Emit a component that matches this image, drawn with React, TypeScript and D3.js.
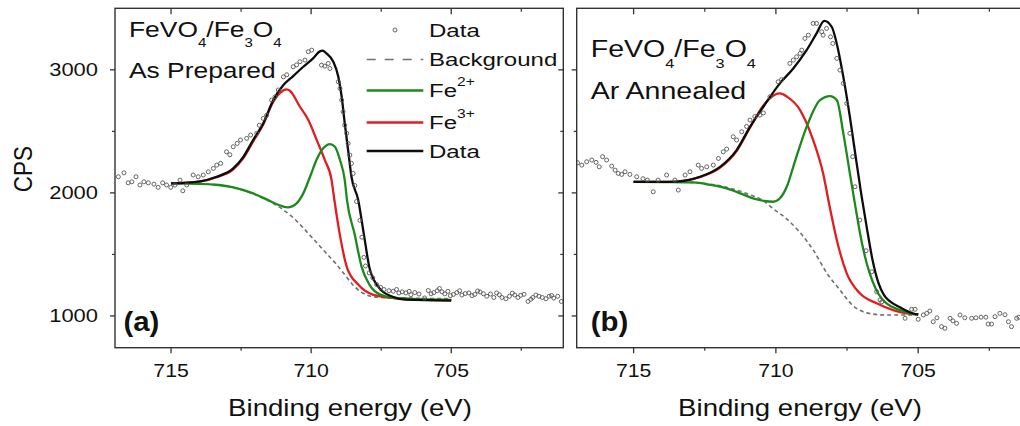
import React from 'react';
import * as d3 from 'd3';

type Pt = [number, number]; // [binding energy (eV), counts per second]

// ---------- Panel (a): FeVO4/Fe3O4 as prepared ----------
const dataA: Pt[] = [
  [716.88, 2131], [716.68, 2163], [716.53, 2082], [716.4, 2090], [716.25, 2131], [716.11, 2064],
  [715.97, 2090], [715.81, 2082], [715.61, 2071], [715.46, 2045], [715.3, 2082], [715.16, 2064],
  [715.01, 2045], [714.86, 2064], [714.68, 2104], [714.58, 2017], [714.44, 2064], [714.21, 2145],
  [714.03, 2131], [713.85, 2145], [713.67, 2171], [713.49, 2199], [713.37, 2226], [713.23, 2240],
  [713.02, 2334], [712.9, 2310], [712.78, 2375], [712.64, 2402], [712.52, 2430], [712.3, 2443],
  [712.16, 2470], [711.94, 2484], [711.85, 2550], [711.71, 2605], [711.59, 2630], [711.41, 2754],
  [711.29, 2780], [711.17, 2836], [710.99, 2943], [710.87, 2960], [710.64, 3025], [710.52, 3040],
  [710.4, 3066], [710.22, 3079], [710.1, 3147], [709.98, 3160], [709.63, 3038], [709.51, 3030],
  [709.39, 3052], [709.33, 3011], [709.03, 2903], [708.97, 2849], [708.91, 2754], [708.86, 2659],
  [708.8, 2550], [708.73, 2484], [708.68, 2402], [708.62, 2307], [708.56, 2240], [708.5, 2158],
  [708.44, 2060], [708.38, 1930], [708.26, 1777], [708.19, 1640], [708.12, 1476], [708.06, 1406],
  [707.93, 1350], [707.8, 1310], [707.66, 1255], [707.52, 1232], [707.4, 1215], [707.22, 1205],
  [707.07, 1201], [706.95, 1215], [706.87, 1187], [706.75, 1196], [706.62, 1187], [706.5, 1200],
  [706.44, 1173], [706.3, 1190], [706.15, 1178], [705.95, 1146], [705.82, 1207], [705.72, 1180],
  [705.62, 1190], [705.5, 1205], [705.42, 1223], [705.33, 1196], [705.23, 1180], [705.12, 1200],
  [705.03, 1165], [704.92, 1175], [704.8, 1190], [704.7, 1205], [704.62, 1170], [704.5, 1182],
  [704.37, 1187], [704.26, 1165], [704.16, 1175], [704.06, 1203], [703.97, 1195], [703.85, 1180],
  [703.73, 1160], [703.6, 1178], [703.48, 1150], [703.38, 1187], [703.28, 1172], [703.19, 1150],
  [703.05, 1140], [702.92, 1160], [702.82, 1185], [702.73, 1170], [702.62, 1150], [702.52, 1168],
  [702.4, 1176], [702.26, 1118], [702.16, 1135], [702.09, 1150], [701.98, 1170], [701.87, 1160],
  [701.75, 1150], [701.62, 1140], [701.5, 1160], [701.42, 1166], [701.34, 1146], [701.2, 1160],
  [701.07, 1118],
];
const bgA: Pt[] = [
  [715.0, 2077], [714.0, 2075], [713.4, 2066], [712.8, 2045], [712.1, 1995], [711.6, 1945],
  [711.1, 1880], [710.7, 1810], [710.3, 1720], [709.9, 1620], [709.5, 1520], [709.1, 1420],
  [708.8, 1335], [708.5, 1250], [708.2, 1192], [707.9, 1162], [707.5, 1150], [706.6, 1145],
  [705.0, 1140],
];
const fe2A: Pt[] = [
  [715.0, 2077], [714.0, 2074], [713.4, 2066], [712.78, 2045], [712.07, 1996], [711.59, 1947],
  [711.2, 1906], [710.84, 1882], [710.52, 1915], [710.28, 1996], [710.04, 2131], [709.81, 2267],
  [709.57, 2362], [709.33, 2397], [709.15, 2375], [708.97, 2267], [708.8, 2104], [708.72, 1942],
  [708.45, 1667], [708.19, 1393], [707.92, 1255], [707.53, 1173], [707.01, 1146], [705.0, 1130],
];
const fe3A: Pt[] = [
  [715.0, 2077], [713.97, 2092], [713.37, 2128], [712.78, 2192], [712.42, 2283], [712.07, 2418],
  [711.71, 2555], [711.4, 2720], [711.1, 2815], [710.88, 2841], [710.76, 2830], [710.4, 2700],
  [710.1, 2592], [709.8, 2429], [709.51, 2267], [709.27, 2104], [709.17, 1942], [708.98, 1667],
  [708.72, 1393], [708.32, 1255], [707.8, 1173], [707.12, 1146], [706.6, 1135], [705.0, 1128],
];
const sumA: Pt[] = [
  [715.0, 2077], [713.97, 2094], [713.37, 2131], [712.78, 2199], [712.42, 2293], [712.07, 2430],
  [711.71, 2565], [711.35, 2754], [710.99, 2876], [710.64, 2949], [710.28, 3025], [709.93, 3093],
  [709.69, 3150], [709.6, 3156], [709.45, 3133], [709.21, 3066], [709.03, 2943], [708.91, 2781],
  [708.8, 2565], [708.68, 2348], [708.56, 2131], [708.32, 1942], [708.12, 1667], [707.92, 1393],
  [707.66, 1255], [707.14, 1160], [706.6, 1132], [705.0, 1124],
];

// ---------- Panel (b): FeVO4/Fe3O4 Ar annealed ----------
const dataB: Pt[] = [
  [716.97, 2245], [716.82, 2226], [716.65, 2253], [716.47, 2267], [716.32, 2248], [716.21, 2212],
  [716.09, 2294], [715.95, 2267], [715.77, 2218], [715.65, 2185], [715.54, 2158], [715.42, 2150],
  [715.3, 2172], [715.13, 2150], [714.89, 2131], [714.67, 2115], [714.52, 2104], [714.31, 2009],
  [714.14, 2104], [713.84, 2145], [713.55, 2104], [713.43, 2023], [713.19, 2145], [713.02, 2172],
  [712.73, 2226], [712.61, 2199], [712.43, 2212], [712.2, 2226], [712.02, 2280], [711.85, 2334],
  [711.73, 2356], [711.5, 2456], [711.38, 2430], [711.2, 2497], [711.03, 2540], [710.91, 2592],
  [710.74, 2620], [710.56, 2632], [710.44, 2650], [710.21, 2781], [709.92, 2903], [709.8, 2920],
  [709.51, 3052], [709.39, 3079], [709.27, 3106], [709.15, 3133], [709.09, 3160], [708.98, 3255],
  [708.86, 3282], [708.69, 3377], [708.57, 3377], [708.39, 3309], [708.34, 3282], [708.22, 3336],
  [708.08, 3268], [708.0, 3214], [707.86, 3093], [707.75, 2998], [707.63, 2890], [707.51, 2727],
  [707.4, 2484], [707.3, 2294], [707.22, 2050], [707.05, 1779], [706.83, 1530], [706.63, 1359],
  [706.46, 1197], [706.34, 1130], [706.28, 1115], [705.46, 981], [705.23, 1054], [705.11, 1054],
  [705.0, 973], [704.82, 1008], [704.7, 1021], [704.59, 1040], [704.47, 953], [704.34, 985],
  [704.18, 913], [704.06, 900], [703.88, 981], [703.78, 960], [703.65, 940], [703.53, 1008],
  [703.36, 985], [703.12, 981], [702.97, 985], [702.79, 990], [702.62, 990], [702.54, 934],
  [702.42, 934], [702.3, 994], [702.13, 1021], [701.95, 1010], [701.83, 953], [701.72, 913],
  [701.54, 981], [701.46, 990],
];
const bgB: Pt[] = [
  [715.0, 2090], [714.0, 2090], [713.0, 2085], [712.3, 2070], [711.73, 2045], [711.0, 1992],
  [710.5, 1945], [710.1, 1872], [709.6, 1785], [709.2, 1690], [708.7, 1540], [708.2, 1345],
  [707.75, 1211], [707.3, 1085], [706.8, 1025], [706.2, 1008], [705.0, 1008],
];
const fe2B: Pt[] = [
  [715.0, 2090], [714.0, 2088], [712.9, 2085], [712.3, 2065], [711.73, 2037], [711.2, 1992],
  [710.8, 1956], [710.4, 1934], [710.09, 1928], [709.86, 1956], [709.6, 2060], [709.39, 2212],
  [708.92, 2537], [708.45, 2754], [708.1, 2787], [707.86, 2754], [707.63, 2484], [707.4, 2158],
  [707.2, 1880], [707.0, 1620], [706.8, 1420], [706.6, 1280], [706.4, 1180], [706.1, 1100],
  [705.64, 1048], [705.3, 1021], [705.0, 1012],
];
const fe3B: Pt[] = [
  [715.0, 2090], [714.0, 2090], [713.5, 2092], [712.67, 2128], [711.96, 2205], [711.38, 2340],
  [710.91, 2530], [710.44, 2710], [710.1, 2790], [709.86, 2808], [709.6, 2780], [709.15, 2673],
  [708.69, 2429], [708.34, 2158], [708.12, 1900], [707.86, 1617], [707.51, 1346], [707.05, 1184],
  [706.46, 1103], [705.88, 1048], [705.41, 1021], [705.0, 1012],
];
const sumB: Pt[] = [
  [715.0, 2090], [714.0, 2090], [713.49, 2092], [712.67, 2131], [711.96, 2212], [711.38, 2348],
  [710.91, 2537], [710.44, 2700], [709.86, 2890], [709.39, 3011], [708.92, 3160], [708.57, 3296],
  [708.3, 3398], [708.04, 3350], [707.81, 3160], [707.63, 2943], [707.4, 2618], [707.2, 2300],
  [707.0, 1990], [706.8, 1710], [706.6, 1450], [706.4, 1270], [706.2, 1170], [706.0, 1120],
  [705.64, 1070], [705.17, 1020], [705.0, 1012],
];

// ---------- Axes ----------
const xMajorTicks = [715, 710, 705];
const xMinorTicks = [712.5, 707.5, 702.5];
const yMajorTicks = [1000, 2000, 3000];
const yMinorTicks = [1500, 2500];
const xDomain: [number, number] = [717, 701];
const yDomain: [number, number] = [742, 3500];

const legendLabels = ['Data', 'Background', 'Fe', 'Fe', 'Data'];
const legendSup = ['', '', '2+', '3+', ''];

const SANS = "'Liberation Sans', Arial, Helvetica, sans-serif";
const RED = '#e11d22';
const GREEN = '#1b8a1b';
const BLACK = '#0d0d0d';
const DASH = '#707070';
const AXIS = '#333';
const MARK = '#555';

type TxtProps = {
  x: number; y: number; size: number; sx?: number; anchor?: 'start' | 'middle' | 'end';
  weight?: string; rotate?: number; children: React.ReactNode;
};
function Txt({ x, y, size, sx = 1.2, anchor = 'start', weight = 'normal', rotate = 0, children }: TxtProps) {
  const rot = rotate ? ` rotate(${rotate})` : '';
  return (
    <text
      transform={`translate(${x},${y}) scale(${sx},1)${rot}`}
      fontSize={size}
      fontFamily={SANS}
      fontWeight={weight}
      textAnchor={anchor}
      fill="#111"
    >
      {children}
    </text>
  );
}

type PanelProps = {
  id: string;
  left: number; right: number; top: number; bottom: number;
  data: Pt[]; bg: Pt[]; fe2: Pt[]; fe3: Pt[]; sum: Pt[];
  yLabels: boolean;
  title: { x: number; y1: number; y2: number; size: number; sub: number; line2: string };
  tag: string; tagX: number;
  axisTitleX: number;
  legend?: boolean;
};

function Panel(p: PanelProps) {
  const x = d3.scaleLinear().domain(xDomain).range([p.left, p.right]);
  const y = d3.scaleLinear().domain(yDomain).range([p.bottom, p.top]);
  const line = d3.line<Pt>().x((d) => x(d[0])).y((d) => y(d[1])).curve(d3.curveMonotoneX);
  const clip = `clip-${p.id}`;
  const subShift = p.title.sub * 0.84;

  return (
    <g>
      <defs>
        <clipPath id={clip}>
          <rect x={p.left} y={p.top} width={p.right - p.left} height={p.bottom - p.top} />
        </clipPath>
      </defs>

      <g clipPath={`url(#${clip})`}>
        <path d={line(p.bg) ?? ''} fill="none" stroke={DASH} strokeWidth={1.6} strokeDasharray="4 3" />
        <path d={line(p.fe3) ?? ''} fill="none" stroke={RED} strokeWidth={2.3} />
        <path d={line(p.fe2) ?? ''} fill="none" stroke={GREEN} strokeWidth={2.3} />
        <path d={line(p.sum) ?? ''} fill="none" stroke={BLACK} strokeWidth={2.3} />
        {p.data.map((d, i) => (
          <circle key={i} cx={x(d[0])} cy={y(d[1])} r={2} fill="none" stroke={MARK} strokeWidth={0.9} />
        ))}
      </g>

      {/* frame */}
      <rect x={p.left} y={p.top} width={p.right - p.left} height={p.bottom - p.top}
        fill="none" stroke={AXIS} strokeWidth={1.4} />

      {/* x ticks: outward on bottom, inward on top */}
      {xMajorTicks.map((t) => (
        <g key={`xM${t}`}>
          <line x1={x(t)} x2={x(t)} y1={p.bottom} y2={p.bottom + 5.5} stroke={AXIS} strokeWidth={1.3} />
          <line x1={x(t)} x2={x(t)} y1={p.top} y2={p.top + 6} stroke={AXIS} strokeWidth={1.3} />
          <Txt x={x(t)} y={377.3} size={19} sx={1.12} anchor="middle">{t}</Txt>
        </g>
      ))}
      {xMinorTicks.map((t) => (
        <g key={`xm${t}`}>
          <line x1={x(t)} x2={x(t)} y1={p.bottom} y2={p.bottom + 3} stroke={AXIS} strokeWidth={1.2} />
          <line x1={x(t)} x2={x(t)} y1={p.top} y2={p.top + 3.5} stroke={AXIS} strokeWidth={1.2} />
        </g>
      ))}

      {/* y ticks: outward on left, inward on right */}
      {yMajorTicks.map((t) => (
        <g key={`yM${t}`}>
          <line x1={p.left - 5} x2={p.left} y1={y(t)} y2={y(t)} stroke={AXIS} strokeWidth={1.3} />
          <line x1={p.right - 5} x2={p.right} y1={y(t)} y2={y(t)} stroke={AXIS} strokeWidth={1.3} />
          {p.yLabels && (
            <Txt x={98} y={y(t) + 6.4} size={18} sx={1.22} anchor="end">{t}</Txt>
          )}
        </g>
      ))}
      {yMinorTicks.map((t) => (
        <g key={`ym${t}`}>
          <line x1={p.left - 3} x2={p.left} y1={y(t)} y2={y(t)} stroke={AXIS} strokeWidth={1.2} />
          <line x1={p.right - 3} x2={p.right} y1={y(t)} y2={y(t)} stroke={AXIS} strokeWidth={1.2} />
        </g>
      ))}

      {/* sample label */}
      <Txt x={p.title.x} y={p.title.y1} size={p.title.size}>
        <tspan>FeVO</tspan>
        <tspan fontSize={p.title.sub} dy={subShift}>4</tspan>
        <tspan dy={-subShift}>/Fe</tspan>
        <tspan fontSize={p.title.sub} dy={subShift}>3</tspan>
        <tspan dy={-subShift}>O</tspan>
        <tspan fontSize={p.title.sub} dy={subShift}>4</tspan>
      </Txt>
      <Txt x={p.title.x} y={p.title.y2} size={p.title.size}>{p.title.line2}</Txt>

      {/* panel tag */}
      <Txt x={p.tagX} y={330.5} size={28} sx={1.05} weight="bold">{p.tag}</Txt>

      {/* axis title */}
      <Txt x={p.axisTitleX} y={415.5} size={23} sx={1.2} anchor="middle">Binding energy (eV)</Txt>

      {p.legend && <Legend />}
    </g>
  );
}

function Legend() {
  const rows = [30, 59.5, 90.5, 122.5, 151];
  const x0 = 366.7;
  const x1 = 423.3;
  const tx = 429;
  return (
    <g>
      <circle cx={(x0 + x1) / 2} cy={rows[0]} r={2} fill="none" stroke={MARK} strokeWidth={0.9} />
      <line x1={x0} x2={x1} y1={rows[1]} y2={rows[1]} stroke={DASH} strokeWidth={1.6} strokeDasharray="9 9" />
      <line x1={x0} x2={x1} y1={rows[2]} y2={rows[2]} stroke={GREEN} strokeWidth={2.3} />
      <line x1={x0} x2={x1} y1={rows[3]} y2={rows[3]} stroke={RED} strokeWidth={2.3} />
      <line x1={x0} x2={x1} y1={rows[4]} y2={rows[4]} stroke={BLACK} strokeWidth={2.3} />
      {legendLabels.map((label, i) => (
        <Txt key={i} x={tx} y={rows[i] + 6.6} size={18.5} sx={1.3}>
          <tspan>{label}</tspan>
          {legendSup[i] && <tspan fontSize={12} dy={-11.3}>{legendSup[i]}</tspan>}
        </Txt>
      ))}
    </g>
  );
}

export default function App() {
  return (
    <svg
      width={1020}
      height={426}
      viewBox="0 0 1020 426"
      style={{ position: 'absolute', left: 0, top: 0, background: '#fff' }}
    >
      <rect x={0} y={0} width={1020} height={426} fill="#fff" />
      <Txt x={31.7} y={169} size={22.5} sx={1.15} anchor="middle" rotate={-90}>CPS</Txt>

      <Panel
        id="a"
        left={115} right={563.3} top={8.3} bottom={347.7}
        data={dataA} bg={bgA} fe2={fe2A} fe3={fe3A} sum={sumA}
        yLabels
        title={{ x: 129, y1: 36.7, y2: 78.3, size: 22, sub: 12.6, line2: 'As Prepared' }}
        tag="(a)" tagX={123.5}
        axisTitleX={350}
        legend
      />
      <Panel
        id="b"
        left={576.7} right={1032} top={8.3} bottom={347.7}
        data={dataB} bg={bgB} fe2={fe2B} fe3={fe3B} sum={sumB}
        yLabels={false}
        title={{ x: 590.7, y1: 56.7, y2: 99.3, size: 23.8, sub: 13.6, line2: 'Ar Annealed' }}
        tag="(b)" tagX={590.7}
        axisTitleX={800}
      />
    </svg>
  );
}
